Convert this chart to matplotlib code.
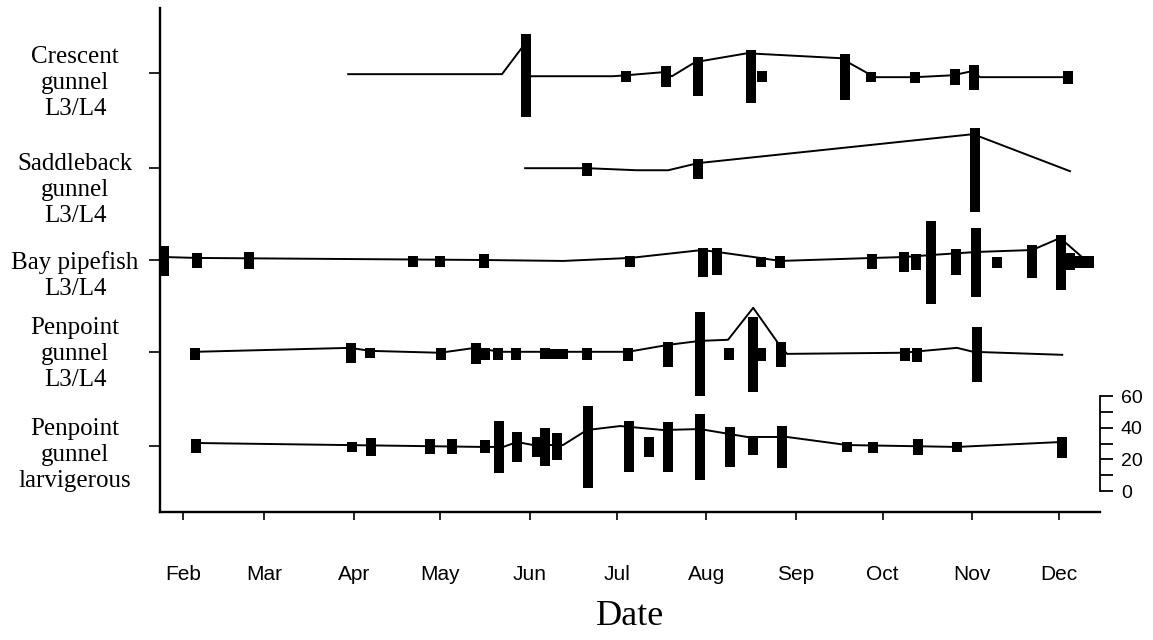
import matplotlib
matplotlib.use("Agg")
import numpy as np
import matplotlib.pyplot as plt
import matplotlib.transforms as mtransforms

# x axis: day of year, ticks at the first of each month
month_starts = [32, 60, 91, 121, 152, 182, 213, 244, 274, 305, 335]
month_labels = ["Feb", "Mar", "Apr", "May", "Jun", "Jul", "Aug", "Sep", "Oct", "Nov", "Dec"]

species = ["Crescent\ngunnel\nL3/L4", "Saddleback\ngunnel\nL3/L4", "Bay pipefish\nL3/L4",
           "Penpoint\ngunnel\nL3/L4", "Penpoint\ngunnel\nlarvigerous"]

# ---- Crescent gunnel L3/L4
crescent_line_day = [89.1, 142.3, 149.3, 151.0, 180.7, 185.2, 197.7, 201.1, 209.1, 227.1,
                     259.3, 262.0, 268.2, 270.0, 285.2, 298.3, 304.9, 307.7, 337.8]
crescent_line_val = [29.4, 29.4, 46.4, 28.1, 28.1, 28.7, 30.6, 28.1, 37.0, 42.6,
                     39.5, 36.9, 30.6, 27.5, 27.5, 28.7, 31.3, 27.5, 27.5]
crescent_bar_day = [150.6, 185.2, 199.1, 210.1, 228.5, 232.3, 261.0, 270.0, 285.2, 299.0, 305.6, 338.1]
crescent_bar_low = [2.2, 24.3, 21.2, 15.5, 11.0, 24.3, 12.9, 24.3, 23.7, 22.4, 19.3, 23.1]
crescent_bar_high = [54.6, 31.3, 34.4, 40.1, 44.5, 31.3, 42.0, 30.6, 30.6, 32.5, 35.1, 31.3]

# ---- Saddleback gunnel L3/L4
saddle_line_day = [150.3, 171.7, 189.0, 199.8, 210.1, 305.3, 338.8]
saddle_line_val = [30.0, 30.0, 28.7, 28.7, 33.2, 51.5, 28.1]
saddle_bar_day = [171.7, 210.1, 306.0]
saddle_bar_low = [24.9, 23.1, 2.2]
saddle_bar_high = [33.2, 35.7, 55.3]

# ---- Bay pipefish L3/L4
bay_line_day = [25.1, 36.8, 135.8, 163.4, 186.6, 211.5, 216.7, 231.6, 238.5, 270.7,
                281.7, 291.1, 306.7, 325.7, 335.4, 343.3]
bay_line_val = [31.9, 31.3, 30.0, 29.4, 31.3, 36.3, 35.1, 31.3, 29.4, 31.3,
                31.9, 33.2, 35.1, 36.3, 43.9, 31.3]
bay_bar_day = [25.4, 36.8, 54.8, 111.6, 120.9, 136.1, 186.6, 211.9, 216.7, 231.9, 238.5, 270.3,
               281.4, 285.5, 290.7, 299.4, 306.3, 313.6, 325.7, 335.7, 338.8, 342.0, 345.4]
bay_bar_low = [19.9, 24.9, 24.3, 25.6, 25.6, 24.9, 25.6, 19.3, 20.5, 25.6, 24.9, 24.3,
               22.4, 23.7, 2.2, 20.5, 6.6, 24.9, 18.6, 11.0, 23.7, 24.9, 24.9]
bay_bar_high = [38.8, 34.4, 35.1, 32.5, 32.5, 33.8, 32.5, 37.6, 37.6, 31.9, 32.5, 33.8,
                35.1, 33.8, 54.6, 36.9, 50.2, 31.9, 39.5, 45.8, 34.4, 32.5, 32.5]

# ---- Penpoint gunnel L3/L4
pen_line_day = [36.2, 89.8, 96.7, 120.9, 133.0, 141.7, 183.2, 185.9, 199.8, 210.8,
                220.5, 229.2, 237.5, 240.9, 280.7, 299.7, 305.3, 336.1]
pen_line_val = [30.0, 32.5, 30.6, 29.4, 32.5, 30.0, 30.0, 30.0, 34.4, 36.9,
                37.6, 57.8, 36.3, 28.7, 29.4, 32.5, 30.0, 28.1]
pen_bar_day = [36.2, 90.1, 96.7, 121.2, 133.3, 136.5, 141.0, 147.2, 157.2, 160.7, 163.4,
               171.7, 185.9, 199.8, 210.8, 220.9, 229.2, 231.9, 238.9, 281.7, 285.9, 306.7]
pen_bar_low = [24.9, 23.1, 26.2, 24.9, 22.4, 24.9, 24.9, 24.9, 25.6, 25.6, 25.6,
               24.9, 24.3, 20.5, 2.2, 24.9, 4.7, 24.3, 20.5, 24.3, 23.7, 11.0]
pen_bar_high = [32.5, 35.7, 32.5, 32.5, 35.7, 32.5, 32.5, 32.5, 32.5, 31.9, 31.9,
                32.5, 32.5, 36.3, 55.3, 32.5, 52.1, 32.5, 36.3, 32.5, 32.5, 45.8]

# ---- Penpoint gunnel larvigerous
larv_line_day = [36.2, 135.8, 142.7, 147.5, 153.1, 163.4, 171.7, 183.2, 198.0, 210.8,
                 227.1, 240.9, 261.7, 299.7, 335.4]
larv_line_val = [31.9, 29.4, 29.4, 32.5, 30.6, 30.6, 40.1, 42.6, 40.1, 40.7,
                 35.7, 35.7, 30.6, 29.4, 32.5]
larv_bar_day = [36.5, 90.5, 97.0, 117.4, 125.0, 136.5, 141.3, 147.5, 154.5, 157.2, 161.4, 172.1,
                186.3, 193.2, 199.8, 210.8, 221.2, 229.2, 239.2, 261.7, 270.7, 286.2, 299.7, 336.1]
larv_bar_low = [25.6, 26.2, 23.7, 24.9, 24.9, 25.6, 12.9, 19.9, 23.1, 17.4, 21.2, 3.5,
                13.6, 23.1, 13.6, 8.5, 16.7, 24.3, 16.1, 26.2, 25.6, 24.3, 26.2, 22.4]
larv_bar_high = [34.4, 32.5, 35.1, 34.4, 34.4, 33.8, 45.8, 38.8, 35.7, 41.4, 38.2, 55.3,
                 45.8, 35.7, 45.2, 50.2, 42.0, 35.1, 42.6, 32.5, 32.5, 34.4, 32.5, 35.7]

rows = [
    (crescent_line_day, crescent_line_val, crescent_bar_day, crescent_bar_low, crescent_bar_high),
    (saddle_line_day, saddle_line_val, saddle_bar_day, saddle_bar_low, saddle_bar_high),
    (bay_line_day, bay_line_val, bay_bar_day, bay_bar_low, bay_bar_high),
    (pen_line_day, pen_line_val, pen_bar_day, pen_bar_low, pen_bar_high),
    (larv_line_day, larv_line_val, larv_bar_day, larv_bar_low, larv_bar_high),
]

# vertical offset of each row (same units as the 0-60 scale)
row_offset = [234, 174, 116, 58, -1.5]
label_y = [257.7, 190.1, 136.4, 86.5, 22.7]

fig = plt.figure(figsize=(11.53, 6.40), dpi=100)
ax = fig.add_axes([0.1388, 0.2, 0.8153, 0.7875])

for off, (ld, lv, bd, blo, bhi) in zip(row_offset, rows):
    ax.plot(ld, np.array(lv) + off, color="black", lw=1.4, zorder=2)
    blo = np.array(blo)
    bhi = np.array(bhi)
    ax.bar(bd, bhi - blo, bottom=blo + off, width=3.4, color="black", zorder=3)

ax.set_xlim(24.0, 349.2)
ax.set_ylim(-13.2, 305.2)

ax.spines["top"].set_visible(False)
ax.spines["right"].set_visible(False)
ax.spines["left"].set_linewidth(1.7)
ax.spines["bottom"].set_linewidth(1.7)

ax.set_xticks(month_starts)
ax.set_xticklabels(month_labels, family="Liberation Sans", fontsize=15)
ax.tick_params(axis="x", direction="out", length=6, width=1.2, pad=32)

ax.set_yticks([o + 30 for o in row_offset])
ax.set_yticklabels([])
ax.tick_params(axis="y", direction="out", length=8, width=1.2)

trans = mtransforms.blended_transform_factory(ax.transAxes, ax.transData)
for name, yy in zip(species, label_y):
    ax.text(-0.0904, yy, name, transform=trans, ha="center", va="center",
            family="Liberation Serif", fontsize=18, linespacing=1.25)

ax.set_xlabel("Date", family="Liberation Serif", fontsize=26, labelpad=12)

# size scale bar on the right
sc = ax.twinx()
sc.set_ylim(ax.get_ylim())
for s in ["top", "left", "bottom"]:
    sc.spines[s].set_visible(False)
sc.spines["right"].set_bounds(0, 60)
sc.spines["right"].set_linewidth(1.3)
sc.set_yticks(range(0, 61, 10))
sc.set_yticklabels(["0", "", "20", "", "40", "", "60"], family="Liberation Sans", fontsize=14)
sc.tick_params(axis="y", direction="out", length=9, width=1.3, pad=6)

fig.savefig("out.png", dpi=100)
